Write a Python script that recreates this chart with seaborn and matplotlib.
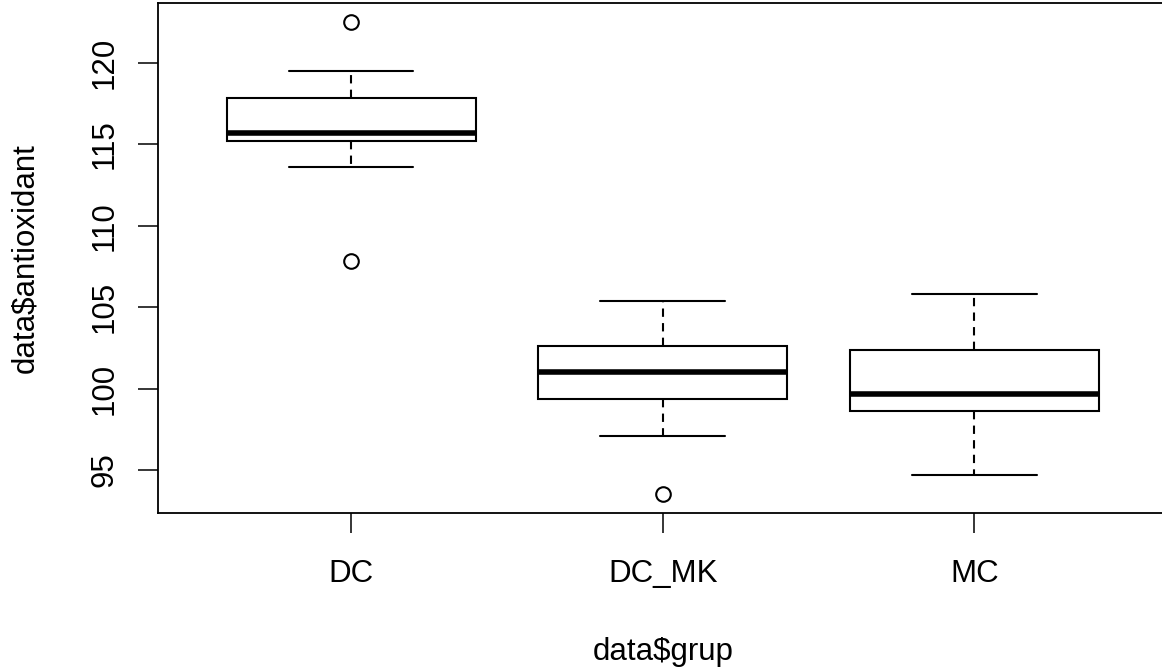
import numpy as np
import pandas as pd
import matplotlib
matplotlib.use("Agg")
import matplotlib.pyplot as plt
import seaborn as sns

# Antioxidant measurements per treatment group
groups = ["DC", "DC_MK", "MC"]
dc = [107.87, 113.60, 115.23, 115.23, 115.68, 117.83, 117.83, 119.49, 122.53]
dc_mk = [93.52, 97.12, 99.37, 99.37, 101.02, 102.64, 102.64, 105.38, 105.38]
mc = [94.72, 98.65, 99.66, 102.37, 105.79]
y_ticks = [95, 100, 105, 110, 115, 120]

data = pd.DataFrame({
    "grup": ["DC"] * len(dc) + ["DC_MK"] * len(dc_mk) + ["MC"] * len(mc),
    "antioxidant": dc + dc_mk + mc,
})

sns.set_theme(style="white")
plt.rcParams["font.family"] = ["Liberation Sans", "DejaVu Sans"]

fig = plt.figure(figsize=(11.62, 6.71), dpi=100)
ax_w = 1009.5
ax_h = 510
ax = fig.add_axes([158 / 1162, 158 / 671, ax_w / 1162, ax_h / 671])

lw = 1.5
sns.boxplot(
    data=data, x="grup", y="antioxidant", order=groups, ax=ax,
    color="white", linecolor="black", linewidth=lw, width=0.8,
    whis=1.5, fliersize=10.5,
    boxprops={"facecolor": "white", "edgecolor": "black", "linewidth": lw},
    whiskerprops={"linestyle": (0, (4, 3)), "linewidth": lw, "color": "black"},
    capprops={"linewidth": lw, "color": "black"},
    medianprops={"linewidth": 4.0, "color": "black", "solid_capstyle": "butt"},
    flierprops={"marker": "o", "markerfacecolor": "none",
                "markeredgecolor": "black", "markeredgewidth": lw},
)

# R-style extended ranges
ymin, ymax = 93.52, 122.53
ext = 0.04 * (ymax - ymin)
ax.set_ylim(ymin - ext, ymax + ext)
ax.set_xlim(-0.62, 2.62)

fs = 22.5
ax.set_yticks(y_ticks)
ax.set_yticklabels([str(t) for t in y_ticks], rotation=90, va="center")
ax.tick_params(axis="both", which="both", direction="out", length=14.5,
               width=1.1, color="black", labelsize=fs, labelcolor="black",
               left=True, bottom=True)
ax.tick_params(axis="y", pad=13)
ax.tick_params(axis="x", pad=18.5)

for spine in ax.spines.values():
    spine.set_visible(True)
    spine.set_color("black")
    spine.set_linewidth(1.3)

ax.set_xlabel("data$grup", fontsize=fs, color="black")
ax.set_ylabel("data$antioxidant", fontsize=fs, color="black")
ax.xaxis.set_label_coords(0.5 - (158 + ax_w / 2 - 663) / ax_w, -(637 - 513) / ax_h)
ax.yaxis.set_label_coords(-(158 - 40) / ax_w, 0.5)
ax.grid(False)

fig.savefig("out.png", dpi=100, facecolor="white")
